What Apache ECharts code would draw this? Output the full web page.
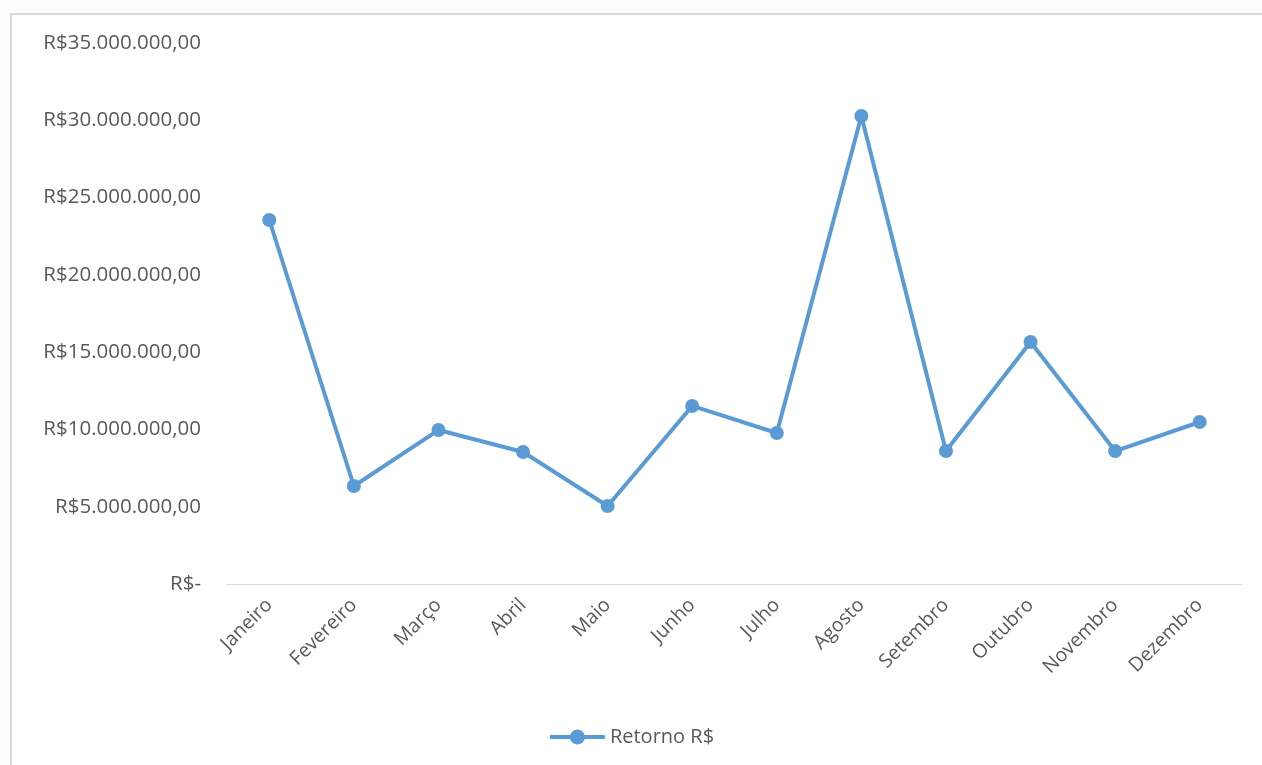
<!DOCTYPE html>
<html>
<head>
<meta charset="utf-8">
<script src="https://cdn.jsdelivr.net/npm/echarts@6/dist/echarts.min.js"></script>
<style>
html,body{margin:0;padding:0;background:#fdfdfd;}
#c{width:1262px;height:765px;}
</style>
</head>
<body>
<div id="c"></div>
<script>
const categories = ['Janeiro','Fevereiro','Março','Abril','Maio','Junho','Julho','Agosto','Setembro','Outubro','Novembro','Dezembro'];
const retorno = [23550000, 6340000, 9960000, 8540000, 5050000, 11520000, 9770000, 30280000, 8600000, 15660000, 8600000, 10480000];
const seriesName = 'Retorno R$';

function fmt(v){
  if (v === 0) return 'R$-';
  const s = Math.round(v).toString().replace(/\B(?=(\d{3})+(?!\d))/g, '.');
  return 'R$' + s + ',00';
}

const chart = echarts.init(document.getElementById('c'), null, {renderer:'canvas'});
const font = '"Open Sans", "Liberation Sans", sans-serif';
chart.setOption({
  animation:false,
  backgroundColor:'#fdfdfd',
  graphic:[{
    type:'rect', z:-10, silent:true,
    shape:{x:11, y:14, width:1400, height:900},
    style:{fill:'#ffffff', stroke:'#d9d9d9', lineWidth:2}
  }],
  grid:{left:227, right:20, top:43, bottom:181, containLabel:false},
  legend:{
    data:[seriesName], bottom:13, left:'center',
    itemWidth:55, itemHeight:19, itemGap:4,
    lineStyle:{width:4},
    textStyle:{color:'#595959', fontSize:20, fontFamily:font}
  },
  xAxis:{
    type:'category', data:categories, boundaryGap:true,
    axisLine:{show:true, lineStyle:{color:'#d9d9d9', width:1}},
    axisTick:{show:false},
    axisLabel:{rotate:45, color:'#595959', fontSize:19.5, fontFamily:font, margin:18, interval:0}
  },
  yAxis:{
    type:'value', min:0, max:35000000, interval:5000000,
    axisLine:{show:false}, axisTick:{show:false},
    splitLine:{show:false},
    axisLabel:{color:'#595959', fontSize:20.5, fontFamily:font, margin:26, formatter:fmt}
  },
  series:[{
    name:seriesName, type:'line', data:retorno,
    symbol:'circle', symbolSize:14, showAllSymbol:true,
    lineStyle:{color:'#5b9bd5', width:4},
    itemStyle:{color:'#5b9bd5'}
  }]
});
</script>
</body>
</html>
